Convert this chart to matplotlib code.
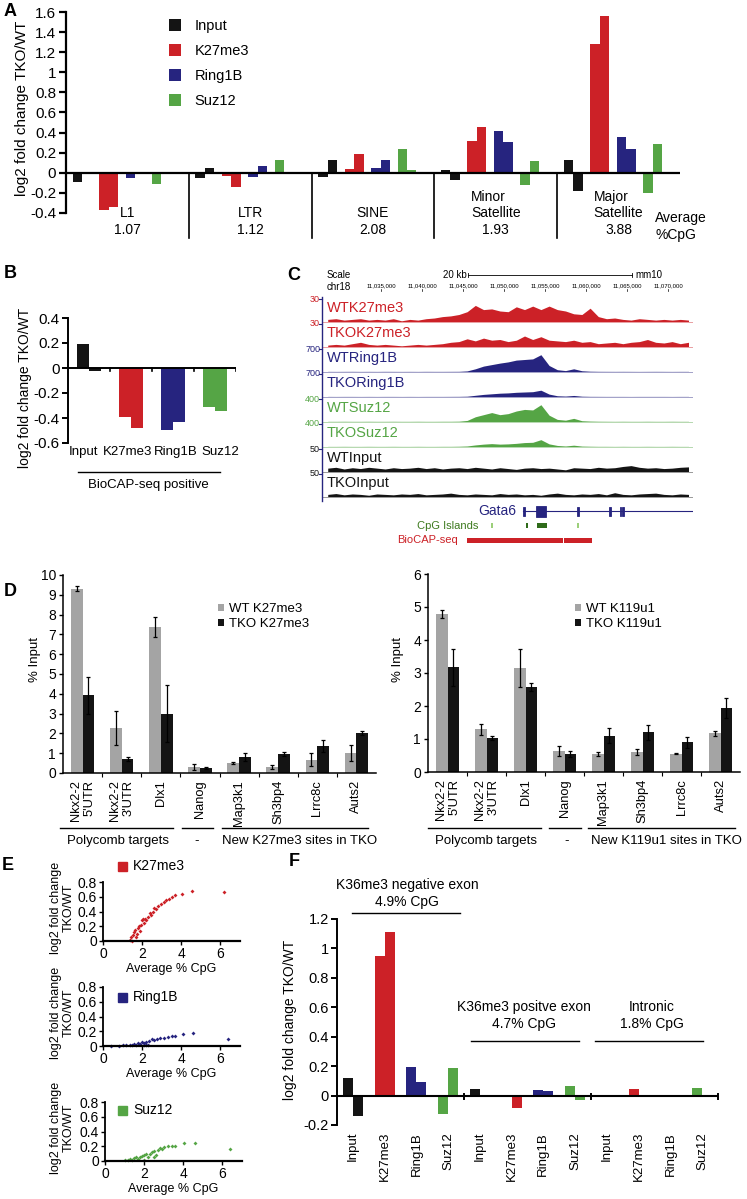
import numpy as np
import matplotlib.pyplot as plt
from matplotlib.lines import Line2D
from matplotlib.patches import Rectangle

plt.rcParams['font.family'] = ['Liberation Sans', 'DejaVu Sans']

# colours used throughout the figure
RED = '#cc2127'
NAVY = '#26247f'
GREEN = '#55a545'
BLK = '#141414'
GREY = '#a4a4a4'

# ---------------- data ----------------
marks = ['Input', 'K27me3', 'Ring1B', 'Suz12']
mark_colors = [BLK, RED, NAVY, GREEN]

# A: repeat classes, (replicate 1, replicate 2) per class
rep_names = ['L1', 'LTR', 'SINE', 'Minor\nSatellite', 'Major\nSatellite']
rep_cpg = ['1.07', '1.12', '2.08', '1.93', '3.88']
a_input = [(-0.09, -0.005), (-0.055, 0.05), (-0.04, 0.13), (0.03, -0.07), (0.13, -0.18)]
a_k27 = [(-0.375, -0.34), (-0.03, -0.14), (0.04, 0.19), (0.32, 0.46), (1.28, 1.56)]
a_ring = [(-0.05, -0.005), (-0.04, 0.07), (0.05, 0.125), (0.42, 0.31), (0.36, 0.235)]
a_suz = [(-0.11, -0.015), (0.13, 0.0), (0.24, 0.03), (-0.12, 0.12), (-0.2, 0.29)]

# B: BioCAP-seq positive regions
b_input = (0.193, -0.02)
b_k27 = (-0.394, -0.477)
b_ring = (-0.496, -0.429)
b_suz = (-0.316, -0.343)

# C: browser tracks on chr18, 1 kb bins from 11,028 kb
c_start_kb = 11028
c_names = ['WTK27me3', 'TKOK27me3', 'WTRing1B', 'TKORing1B',
           'WTSuz12', 'TKOSuz12', 'WTInput', 'TKOInput']
c_scales = [30, 30, 700, 700, 400, 400, 50, 50]
c_wt_k27 = [3, 4, 2, 3, 4, 2, 3, 2, 4, 1, 3, 2, 4, 5, 7, 8, 10, 14, 23, 17,
            18, 15, 14, 21, 17, 22, 17, 22, 17, 15, 11, 10, 19, 7, 4, 5, 3, 2, 4, 3,
            2, 3, 2, 3, 2]
c_tko_k27 = [2, 3, 2, 4, 6, 3, 2, 3, 2, 1, 2, 3, 2, 3, 4, 6, 7, 11, 8, 12,
             9, 10, 7, 9, 15, 10, 14, 9, 8, 7, 9, 6, 7, 4, 5, 6, 4, 6, 7, 10,
             6, 5, 7, 4, 6]
c_wt_ring = [4, 3, 4, 5, 3, 4, 3, 5, 4, 3, 4, 3, 5, 4, 4, 5, 6, 20, 90, 180,
             230, 280, 320, 380, 400, 420, 560, 200, 60, 30, 90, 25, 10, 6, 5, 4, 5, 4, 3, 4,
             5, 4, 3, 4, 4]
c_tko_ring = [3, 2, 3, 3, 2, 3, 2, 3, 3, 2, 3, 2, 3, 3, 3, 4, 5, 10, 40, 70,
              90, 110, 120, 140, 150, 160, 210, 80, 25, 15, 35, 10, 5, 4, 3, 3, 3, 2, 3, 3,
              3, 3, 2, 3, 3]
c_wt_suz = [3, 3, 4, 3, 3, 4, 3, 3, 4, 3, 3, 4, 3, 3, 4, 4, 6, 20, 90, 130,
            170, 130, 150, 200, 230, 220, 320, 120, 40, 25, 60, 15, 8, 5, 4, 3, 4, 3, 3, 4,
            3, 3, 4, 3, 3]
c_tko_suz = [2, 2, 3, 2, 2, 3, 2, 2, 3, 2, 2, 3, 2, 2, 3, 3, 5, 10, 30, 45,
             55, 45, 50, 60, 75, 80, 130, 50, 20, 10, 25, 8, 5, 3, 3, 2, 3, 2, 2, 3,
             2, 2, 3, 2, 2]
c_wt_input = [8, 10, 6, 9, 7, 10, 8, 6, 9, 7, 8, 10, 7, 9, 6, 8, 9, 7, 10, 8,
              6, 9, 7, 5, 8, 9, 7, 8, 6, 4, 9, 8, 7, 10, 8, 9, 12, 14, 10, 8,
              9, 7, 8, 10, 11]
c_tko_input = [5, 7, 4, 6, 5, 3, 6, 5, 4, 6, 5, 7, 4, 5, 6, 8, 5, 4, 6, 5,
               4, 7, 5, 6, 4, 5, 3, 6, 8, 5, 4, 6, 5, 7, 4, 9, 5, 4, 6, 7,
               8, 5, 4, 6, 5]
c_colors = [RED, RED, NAVY, NAVY, GREEN, GREEN, BLK, BLK]
gata6_start, gata6_end = 11052.3, 11073.0
gata6_exons = [(11052.35, 11052.6), (11053.9, 11055.1), (11058.95, 11059.1),
               (11062.85, 11063.0), (11064.1, 11064.25), (11064.45, 11064.6)]
cpg_islands = [(11048.45, 11048.65, '#9ccf7a'), (11052.7, 11052.95, '#2f6b1a'),
               (11054.0, 11055.2, '#2f6b1a'), (11058.95, 11059.15, '#9ccf7a')]
biocap = [(11045.5, 11057.2), (11057.3, 11060.75)]

# D: ChIP-qPCR, % input (mean, error)
d_genes = ["Nkx2-2\n5'UTR", "Nkx2-2\n3'UTR", 'Dlx1', 'Nanog',
           'Map3k1', 'Sh3bp4', 'Lrrc8c', 'Auts2']
d27_wt = [9.3, 2.27, 7.37, 0.3, 0.5, 0.29, 0.67, 1.0]
d27_wt_err = [0.13, 0.85, 0.52, 0.15, 0.05, 0.1, 0.33, 0.4]
d27_tko = [3.92, 0.71, 3.0, 0.25, 0.8, 0.96, 1.35, 2.0]
d27_tko_err = [0.93, 0.12, 1.42, 0.03, 0.2, 0.1, 0.3, 0.1]
d119_wt = [4.79, 1.29, 3.15, 0.63, 0.55, 0.6, 0.56, 1.17]
d119_wt_err = [0.13, 0.16, 0.58, 0.15, 0.07, 0.09, 0.02, 0.08]
d119_tko = [3.17, 1.03, 2.58, 0.55, 1.1, 1.2, 0.9, 1.94]
d119_tko_err = [0.57, 0.07, 0.13, 0.1, 0.23, 0.23, 0.16, 0.29]

# E: fold change vs average CpG
e_k27_cpg = [1.4, 1.45, 1.5, 1.55, 1.6, 1.65, 1.7, 1.75, 1.8, 1.85, 1.9, 1.95, 2.0, 2.05,
             2.1, 2.15, 2.2, 2.3, 2.4, 2.45, 2.55, 2.6, 2.7, 2.8, 2.95, 3.1, 3.2, 3.35,
             3.5, 3.7, 4.05, 4.55, 6.2]
e_k27_fc = [0.02, 0.05, 0.0, 0.08, 0.12, 0.15, 0.05, 0.1, 0.18, 0.2, 0.13, 0.22, 0.28, 0.3,
            0.25, 0.3, 0.28, 0.33, 0.38, 0.35, 0.4, 0.45, 0.43, 0.47, 0.5, 0.53, 0.55, 0.57,
            0.6, 0.62, 0.64, 0.68, 0.67]
e_ring_cpg = [0.4, 0.8, 1.0, 1.2, 1.4, 1.5, 1.6, 1.7, 1.8, 1.9, 2.0, 2.1, 2.1, 2.2,
              2.2, 2.3, 2.35, 2.5, 2.6, 2.75, 2.9, 3.1, 3.3, 3.5, 3.7, 4.1, 4.6, 6.4]
e_ring_fc = [0.0, 0.0, 0.01, 0.01, 0.02, 0.01, 0.03, 0.02, 0.04, 0.03, 0.05, 0.04, 0.01, 0.06,
             0.02, 0.02, 0.07, 0.09, 0.08, 0.1, 0.11, 0.11, 0.12, 0.13, 0.14, 0.16, 0.17, 0.09]
e_suz_cpg = [1.0, 1.2, 1.3, 1.4, 1.5, 1.6, 1.7, 1.8, 1.9, 2.0, 2.0, 2.1, 2.2, 2.3,
             2.4, 2.5, 2.5, 2.6, 2.7, 2.8, 2.9, 3.0, 3.2, 3.4, 3.6, 4.05, 4.6, 6.4]
e_suz_fc = [0.01, 0.02, 0.03, 0.01, 0.04, 0.05, 0.03, 0.06, 0.07, 0.01, 0.08, 0.09, 0.05, 0.1,
            0.12, 0.06, 0.14, 0.08, 0.15, 0.17, 0.16, 0.19, 0.2, 0.2, 0.21, 0.25, 0.25, 0.16]

# F: exon / intron classes, (replicate 1, replicate 2)
f_groups = ['K36me3 negative exon\n4.9% CpG', 'K36me3 positve exon\n4.7% CpG', 'Intronic\n1.8% CpG']
f_input = [(0.12, -0.14), (0.045, 0.005), (0.005, 0.005)]
f_k27 = [(0.95, 1.11), (0.005, -0.082), (0.045, 0.005)]
f_ring = [(0.195, 0.093), (0.038, 0.03), (0.0, 0.0)]
f_suz = [(-0.125, 0.188), (0.068, -0.027), (0.052, 0.0)]

# ---------------- layout helpers (pixel coordinates, y from top) ----------------
W, H = 747, 1199
fig = plt.figure(figsize=(W / 100, H / 100), dpi=100)


def box(x0, y0, x1, y1):
    return fig.add_axes([x0 / W, 1 - y1 / H, (x1 - x0) / W, (y1 - y0) / H])


def ftext(x, y, s, **kw):
    kw.setdefault('ha', 'center')
    kw.setdefault('va', 'center')
    fig.text(x / W, 1 - y / H, s, **kw)


def fline(x0, x1, y, lw=1.0, color='k'):
    fig.add_artist(Line2D([x0 / W, x1 / W], [1 - y / H, 1 - y / H], lw=lw, color=color))


def num(v):
    v = round(float(v), 2)
    return '0' if v == 0 else f'{v:g}'


def clean(ax, lw=1.5):
    for sp in ['top', 'right', 'bottom']:
        ax.spines[sp].set_visible(False)
    ax.spines['left'].set_linewidth(lw)


# panel letters
for letter, (x, y) in zip('ABCDEF', [(10, 12), (10, 273), (294, 276), (10, 591), (8, 866), (294, 862)]):
    ftext(x, y, letter, fontsize=13, fontweight='bold')

# ---------------- A ----------------
axA = box(66, 12, 680, 213)
gw = 13
for s, vals in enumerate([a_input, a_k27, a_ring, a_suz]):
    vals = np.array(vals)
    xs = np.arange(5) * gw + 0.7 + s * 2.8
    axA.bar(xs + 0.5, vals[:, 0], width=1, color=mark_colors[s], label=marks[s])
    axA.bar(xs + 1.5, vals[:, 1], width=1, color=mark_colors[s])
axA.set_xlim(0, 5 * gw)
axA.set_ylim(-0.4, 1.6)
yt = np.arange(-0.4, 1.61, 0.2)
axA.set_yticks(yt, [num(v) for v in yt])
axA.set_xticks([])
clean(axA, 1.6)
axA.tick_params(axis='y', length=5, width=1.6, labelsize=11, pad=2)
axA.axhline(0, color='k', lw=1.6)
for g in range(1, 5):
    axA.plot([g * gw, g * gw], [0, -0.65], color='k', lw=1.2, clip_on=False)
for g in range(5):
    axA.text(g * gw + 6.5, -0.47, rep_names[g], ha='center', va='bottom',
             multialignment='left', fontsize=10)
    axA.text(g * gw + 6.5, -0.57, rep_cpg[g], ha='center', va='center', fontsize=10)
ftext(655, 226.5, 'Average\n%CpG', ha='left', fontsize=10)
ftext(22, 108, 'log2 fold change TKO/WT', rotation=90, fontsize=11)
axA.legend(loc='upper left', bbox_to_anchor=(169 / W, 1 - 19 / H), bbox_transform=fig.transFigure,
           frameon=False, fontsize=10.5, handlelength=0.85, handleheight=0.85,
           handletextpad=0.9, labelspacing=0.75, borderpad=0, borderaxespad=0)

# ---------------- B ----------------
axB = box(68, 318, 236, 443)
bvals = np.array([b_input, b_k27, b_ring, b_suz])
bx = np.arange(4)
axB.bar(bx - 0.145, bvals[:, 0], width=0.29, color=mark_colors)
axB.bar(bx + 0.145, bvals[:, 1], width=0.29, color=mark_colors)
axB.set_xlim(-0.5, 3.5)
axB.set_ylim(-0.6, 0.4)
yt = np.arange(-0.6, 0.41, 0.2)
axB.set_yticks(yt, [num(v) for v in yt])
axB.set_xticks([])
clean(axB, 1.4)
axB.tick_params(axis='y', length=4, width=1.4, labelsize=11, pad=2)
axB.axhline(0, color='k', lw=1.4)
for xb in [0.5, 1.5, 2.5, 3.5]:
    axB.plot([xb, xb], [0, -0.025], color='k', lw=1.2)
for xc, m in zip([83, 128, 176, 220], marks):
    ftext(xc, 452, m, fontsize=9.5)
fline(78, 220, 472)
ftext(148, 485, 'BioCAP-seq positive', fontsize=9.5)
ftext(25, 388, 'log2 fold change TKO/WT', rotation=90, fontsize=10)

# ---------------- C ----------------
axC = box(322, 262, 693, 550)
axC.set_xlim(11027.8, 11073.05)
axC.set_ylim(550, 262)   # y in pixel rows, top to bottom
axC.axis('off')


def kb(px):
    return 11040 + (px - 422) / 8.2


kb_bins = c_start_kb + 0.5 + np.arange(45)
tracks = [c_wt_k27, c_tko_k27, c_wt_ring, c_tko_ring, c_wt_suz, c_tko_suz, c_wt_input, c_tko_input]
for k, (name, vals, sc, col) in enumerate(zip(c_names, tracks, c_scales, c_colors)):
    top = 299 + 25 * k
    base = top + 22.5
    h = np.array(vals) / sc * 21
    axC.fill_between(kb_bins, base, base - h, color=col, lw=0)
    axC.plot([11027.8, 11073], [base, base], color=col, lw=0.6, alpha=0.5)
    axC.text(kb(327), top + 9, name, color=col, fontsize=10.5, va='center', ha='left')
    axC.text(kb(320), top, str(sc), color=col, fontsize=6.5, va='center', ha='right')
    axC.plot([kb(319), 11027.8], [top, top], color=NAVY, lw=0.8, clip_on=False)
axC.plot([11027.8, 11027.8], [297, 501], color=NAVY, lw=1.0, clip_on=False)

# ruler
axC.text(kb(327), 275, 'Scale', fontsize=7, va='center')
axC.text(kb(327), 287, 'chr18', fontsize=7, va='center')
axC.text(kb(467), 275, '20 kb', fontsize=7, va='center', ha='right')
axC.plot([kb(468), kb(468) + 20], [275, 275], color='k', lw=0.6)
axC.plot([kb(468), kb(468)], [273, 277], color='k', lw=0.6)
axC.plot([kb(468) + 20] * 2, [273, 277], color='k', lw=0.6)
axC.text(kb(468) + 20.4, 275, 'mm10', fontsize=7, va='center', ha='left')
for c in range(11035, 11071, 5):
    axC.text(c, 286, f'{c * 1000:,}', fontsize=4.3, ha='center', va='center')
    axC.plot([c, c], [289, 291], color='k', lw=0.5)

# gene model, CpG islands, BioCAP-seq
axC.plot([gata6_start, gata6_end], [511, 511], color=NAVY, lw=0.8)
for e0, e1 in gata6_exons:
    hh = 5.5 if e1 - e0 > 0.5 else 4.5
    axC.add_patch(Rectangle((e0, 511 - hh), e1 - e0, 2 * hh, color=NAVY, lw=0.6))
axC.text(kb(516), 511, 'Gata6', color=NAVY, fontsize=10, ha='right', va='center')
for c0, c1, col in cpg_islands:
    axC.add_patch(Rectangle((c0, 523), c1 - c0, 5, color=col, lw=0))
axC.text(kb(478), 526, 'CpG Islands', color='#3d7a1e', fontsize=8, ha='right', va='center')
for b0, b1 in biocap:
    axC.add_patch(Rectangle((b0, 537.5), b1 - b0, 5, color=RED, lw=0))
axC.text(kb(458), 540, 'BioCAP-seq', color=RED, fontsize=8, ha='right', va='center')


# ---------------- D ----------------
def qpcr(ax, wt, wt_err, tko, tko_err, ymax, labels):
    x = np.arange(len(d_genes))
    ek = dict(elinewidth=0.9, capsize=1.6, capthick=0.9, ecolor='k')
    ax.bar(x - 0.15, wt, 0.3, yerr=wt_err, color=GREY, error_kw=ek, label=labels[0])
    ax.bar(x + 0.15, tko, 0.3, yerr=tko_err, color=BLK, error_kw=ek, label=labels[1])
    ax.set_xlim(-0.5, len(d_genes) - 0.5)
    ax.set_ylim(0, ymax)
    ax.set_yticks(range(ymax + 1))
    ax.set_xticks(x, d_genes, rotation=90, va='top', ha='center',
                  multialignment='right', fontsize=9.3)
    ax.set_xticks(x[:-1] + 0.5, minor=True)
    ax.tick_params(axis='x', which='major', length=0, pad=5)
    ax.tick_params(axis='x', which='minor', length=3, width=0.8)
    ax.tick_params(axis='y', length=3, width=1, labelsize=10, pad=2)
    for sp in ['top', 'right']:
        ax.spines[sp].set_visible(False)
    ax.spines['left'].set_linewidth(1.1)
    ax.spines['bottom'].set_linewidth(1.1)


axD1 = box(63, 575, 376, 773)
qpcr(axD1, d27_wt, d27_wt_err, d27_tko, d27_tko_err, 10, ['WT K27me3', 'TKO K27me3'])
axD2 = box(428, 574, 740, 772)
qpcr(axD2, d119_wt, d119_wt_err, d119_tko, d119_tko_err, 6, ['WT K119u1', 'TKO K119u1'])
for ax, lx in [(axD1, 218), (axD2, 575)]:
    ax.legend(loc='upper left', bbox_to_anchor=(lx / W, 1 - 603 / H), bbox_transform=fig.transFigure,
              frameon=False, fontsize=9.5, handlelength=0.45, handleheight=0.45,
              handletextpad=0.4, labelspacing=0.25, borderpad=0, borderaxespad=0)
ftext(35, 660, '% Input', rotation=90, fontsize=9.5)
ftext(398, 660, '% Input', rotation=90, fontsize=9.5)
for x0, x1 in [(60, 173), (182, 213), (222, 368), (428, 541), (549, 581), (588, 735)]:
    fline(x0, x1, 828)
for xc, s in [(118, 'Polycomb targets'), (197, '-'), (300, 'New K27me3 sites in TKO'),
              (486, 'Polycomb targets'), (567, '-'), (666, 'New K119u1 sites in TKO')]:
    ftext(xc, 841, s, fontsize=9.5)

# ---------------- E ----------------
# (values, colour, name, axes box, y of colour key)
e_sets = [(e_k27_cpg, e_k27_fc, RED, 'K27me3', (103, 882, 240, 941), 866),
          (e_ring_cpg, e_ring_fc, NAVY, 'Ring1B', (103, 987, 240, 1046), 997),
          (e_suz_cpg, e_suz_fc, GREEN, 'Suz12', (105, 1102, 242, 1161), 1110)]
for cpg, fc, col, name, (x0, y0, x1, y1), ky in e_sets:
    ax = box(x0, y0, x1, y1)
    ax.plot(cpg, fc, 'D', ms=2, color=col, mec='none', clip_on=False)
    ax.set_xlim(0, 7)
    ax.set_ylim(0, 0.8)
    ax.set_xticks([0, 2, 4, 6])
    yt = np.arange(0, 0.81, 0.2)
    ax.set_yticks(yt, [num(v) for v in yt])
    for sp in ['top', 'right']:
        ax.spines[sp].set_visible(False)
    ax.spines['left'].set_linewidth(1.3)
    ax.spines['bottom'].set_linewidth(1.6)
    ax.tick_params(length=3, width=1, labelsize=10, pad=1.5)
    ax.set_xlabel('Average % CpG', fontsize=9, labelpad=1)
    ftext(62, (y0 + y1) / 2 - 4, 'log2 fold change\nTKO/WT', rotation=90, fontsize=9, linespacing=1.1)
    # colour key
    fig.add_artist(Rectangle((118 / W, 1 - (ky + 4.5) / H), 9 / W, 9 / H,
                             color=col, transform=fig.transFigure))
    ftext(133, ky, name, ha='left', fontsize=10)

# ---------------- F ----------------
axF = box(337, 919, 718, 1125)
for s, vals in enumerate([f_input, f_k27, f_ring, f_suz]):
    vals = np.array(vals)
    xs = np.arange(3) * 4 + s
    axF.bar(xs - 0.158, vals[:, 0], width=0.315, color=mark_colors[s])
    axF.bar(xs + 0.158, vals[:, 1], width=0.315, color=mark_colors[s])
axF.set_xlim(-0.5, 11.5)
axF.set_ylim(-0.2, 1.2)
yt = np.arange(-0.2, 1.21, 0.2)
axF.set_yticks(yt, [num(v) for v in yt])
axF.set_xticks(range(12), marks * 3, rotation=90, va='top', fontsize=9.5)
axF.tick_params(axis='x', length=0, pad=5)
axF.tick_params(axis='y', length=4, width=1.4, labelsize=10.5, pad=2)
clean(axF, 1.4)
axF.axhline(0, color='k', lw=1.5)
for xb in [3.5, 7.5, 11.5]:
    axF.plot([xb, xb], [0.01, -0.02], color='k', lw=1.4, clip_on=False)
ftext(290, 1020, 'log2 fold change TKO/WT', rotation=90, fontsize=10)
for (xc, y, x0, x1, yl), s in zip([(407, 893.5, 352, 460, 913), (524, 1015.5, 471, 579, 1041),
                                    (652, 1015.5, 595, 703, 1041)], f_groups):
    ftext(xc, y, s, fontsize=10)
    fline(x0, x1, yl)

fig.savefig('out.png', dpi=100)
